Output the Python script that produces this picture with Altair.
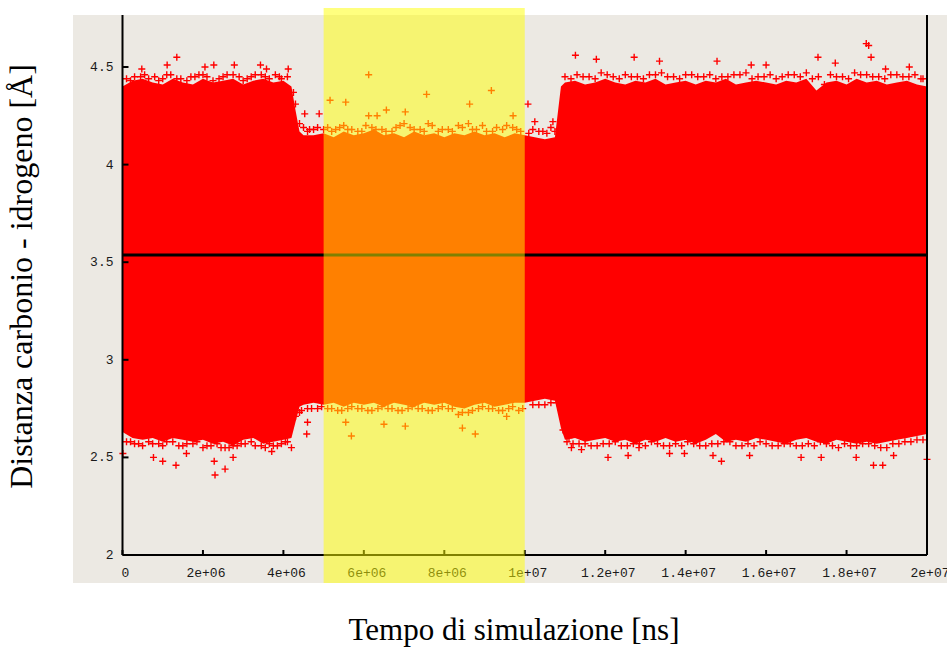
import altair as alt
import pandas as pd

# ---------------- data ----------------
# dense band envelope (solid part of the scatter), x in units of 1e6
area_x_M = [0, 0.25, 0.5, 0.75, 1.0, 1.25, 1.5, 1.75, 2.0, 2.25, 2.5, 2.75, 3.0, 3.25, 3.5, 3.75, 4.0,
            4.2, 4.3, 4.4,
            4.5, 4.75, 5.0, 5.25, 5.5, 5.75, 6.0, 6.25, 6.5, 6.75, 7.0, 7.25, 7.5, 7.75, 8.0, 8.25, 8.5,
            8.75, 9.0, 9.25, 9.5, 9.75, 10.0, 10.25, 10.5, 10.75,
            10.9,
            11.0, 11.25, 11.5, 11.75, 12.0, 12.25, 12.5, 12.75, 13.0, 13.25, 13.5, 13.75, 14.0, 14.25,
            14.5, 14.75, 15.0, 15.25, 15.5, 15.75, 16.0, 16.25, 16.5, 16.75, 17.0, 17.25, 17.5, 17.75,
            18.0, 18.25, 18.5, 18.75, 19.0, 19.25, 19.5, 19.75, 20.0]
area_upper = [4.40, 4.43, 4.44, 4.42, 4.41, 4.44, 4.42, 4.41, 4.44, 4.42, 4.43, 4.44, 4.41, 4.43, 4.44, 4.42, 4.43,
              4.40, 4.28, 4.17,
              4.15, 4.15, 4.16, 4.14, 4.17, 4.15, 4.16, 4.18, 4.15, 4.16, 4.14, 4.17, 4.15, 4.16, 4.14, 4.16,
              4.15, 4.17, 4.15, 4.16, 4.14, 4.16, 4.15, 4.14, 4.13, 4.14,
              4.40,
              4.42, 4.43, 4.41, 4.42, 4.44, 4.42, 4.41, 4.43, 4.42, 4.44, 4.41, 4.42, 4.43, 4.41, 4.43, 4.42,
              4.44, 4.41, 4.42, 4.43, 4.42, 4.41, 4.43, 4.42, 4.44, 4.38, 4.42, 4.43, 4.41, 4.44, 4.42, 4.43,
              4.41, 4.42, 4.43, 4.41, 4.40]
area_lower = [2.63, 2.60, 2.59, 2.60, 2.58, 2.60, 2.59, 2.58, 2.59, 2.57, 2.58, 2.56, 2.59, 2.60, 2.57, 2.58, 2.59,
              2.60, 2.68, 2.76,
              2.77, 2.78, 2.77, 2.78, 2.76, 2.78, 2.77, 2.78, 2.76, 2.78, 2.77, 2.76, 2.78, 2.77, 2.78, 2.76,
              2.75, 2.77, 2.78, 2.76, 2.77, 2.78, 2.78, 2.79, 2.80, 2.79,
              2.65,
              2.59, 2.60, 2.58, 2.59, 2.60, 2.58, 2.59, 2.57, 2.59, 2.58, 2.60, 2.58, 2.59, 2.57, 2.59, 2.62,
              2.58, 2.59, 2.58, 2.60, 2.59, 2.58, 2.57, 2.59, 2.60, 2.58, 2.57, 2.59, 2.58, 2.57, 2.58, 2.57,
              2.58, 2.59, 2.60, 2.61, 2.62]

# "+" markers along the upper edge (x in 1e6)
top_x_M = [0.1, 0.3, 0.55, 0.8, 1.0, 1.2, 1.45, 1.7, 1.9, 2.1, 2.4, 2.6, 2.9, 3.1, 3.3, 3.55, 3.8, 3.95, 4.1,
           4.25, 4.3, 4.4, 4.5, 4.65, 4.85,
           5.1, 5.3, 5.5, 5.7, 5.95, 6.2, 6.45, 6.7, 6.9, 7.15, 7.4, 7.6, 7.85, 8.1, 8.35, 8.6, 8.8, 9.05,
           9.3, 9.55, 9.8,
           10.2, 10.45, 10.65, 10.85,
           11.0, 11.3, 11.6, 11.9, 12.2, 12.5, 12.8, 13.1, 13.4, 13.7, 14.0, 14.3, 14.6, 14.9, 15.2, 15.5,
           15.8, 16.1, 16.4, 16.7, 17.0, 17.3, 17.6, 17.9, 18.2, 18.5, 18.8, 19.1, 19.4, 19.7, 19.9]
top_y = [4.44, 4.45, 4.46, 4.45, 4.44, 4.46, 4.44, 4.45, 4.46, 4.45, 4.44, 4.46, 4.45, 4.44, 4.46, 4.45, 4.46, 4.44, 4.45,
         4.37, 4.31, 4.21, 4.19, 4.18, 4.19,
         4.19, 4.18, 4.20, 4.18, 4.17, 4.19, 4.18, 4.17, 4.20, 4.19, 4.18, 4.21, 4.17, 4.18, 4.20, 4.21, 4.18, 4.17,
         4.19, 4.20, 4.18,
         4.18, 4.17, 4.19, 4.18,
         4.45, 4.46, 4.45, 4.47, 4.45, 4.46, 4.45, 4.46, 4.47, 4.45, 4.46, 4.45, 4.46, 4.45, 4.46, 4.47,
         4.45, 4.46, 4.45, 4.46, 4.47, 4.45, 4.46, 4.45, 4.47, 4.46, 4.45, 4.46, 4.45, 4.46, 4.44]
top2_x_M = [0.2, 0.45, 0.65, 0.9, 1.1, 1.35, 1.6, 1.8, 2.0, 2.25, 2.5, 2.75, 3.0, 3.2, 3.45, 3.65, 3.9,
            4.6, 4.75, 5.0, 5.2, 5.4, 5.6, 5.85, 6.05, 6.3, 6.55, 6.8, 7.0, 7.25, 7.5, 7.7, 7.95, 8.2, 8.45,
            8.7, 8.95, 9.2, 9.45, 9.7, 9.9, 10.1, 10.35, 10.55, 10.75,
            11.15, 11.45, 11.75, 12.05, 12.35, 12.65, 12.95, 13.25, 13.55, 13.85, 14.15, 14.45, 14.75, 15.05,
            15.35, 15.65, 15.95, 16.25, 16.55, 16.85, 17.15, 17.45, 17.75, 18.05, 18.35, 18.65, 18.95, 19.25,
            19.55, 19.85]
top2_y = [4.43, 4.45, 4.44, 4.43, 4.46, 4.44, 4.43, 4.45, 4.46, 4.43, 4.45, 4.46, 4.43, 4.45, 4.46, 4.44, 4.45,
          4.17, 4.18, 4.18, 4.17, 4.19, 4.18, 4.17, 4.20, 4.18, 4.17, 4.19, 4.21, 4.18, 4.17, 4.20, 4.18, 4.17, 4.19,
          4.18, 4.20, 4.17, 4.18, 4.19, 4.17, 4.16, 4.17, 4.16, 4.17,
          4.44, 4.45, 4.44, 4.46, 4.44, 4.45, 4.44, 4.46, 4.45, 4.44, 4.46, 4.45, 4.44, 4.45,
          4.46, 4.44, 4.45, 4.44, 4.46, 4.45, 4.44, 4.41, 4.45, 4.44, 4.46, 4.45, 4.44, 4.46,
          4.45, 4.44]

# "+" markers along the lower edge (x in 1e6)
bot_x_M = [0.1, 0.3, 0.5, 0.75, 1.0, 1.25, 1.5, 1.75, 2.0, 2.2, 2.45, 2.65, 2.85, 3.05, 3.3, 3.55, 3.75, 3.95, 4.1,
           4.3, 4.45, 4.6, 4.85,
           5.1, 5.35, 5.6, 5.85, 6.1, 6.35, 6.6, 6.85, 7.1, 7.35, 7.6, 7.85, 8.1, 8.35, 8.6, 8.85, 9.1, 9.35,
           9.6, 9.85,
           10.2, 10.5, 10.8, 10.95, 11.05,
           11.2, 11.5, 11.8, 12.1, 12.4, 12.7, 13.0, 13.3, 13.6, 13.9, 14.2, 14.5, 14.8, 15.1, 15.4, 15.7,
           16.0, 16.3, 16.6, 16.9, 17.2, 17.5, 17.8, 18.1, 18.4, 18.7, 19.0, 19.3, 19.6, 19.9]
bot_y = [2.58, 2.57, 2.56, 2.57, 2.56, 2.58, 2.56, 2.57, 2.55, 2.56, 2.55, 2.55, 2.56, 2.57, 2.56, 2.55, 2.56, 2.57, 2.58,
         2.71, 2.74, 2.75, 2.75,
         2.75, 2.74, 2.75, 2.75, 2.74, 2.75, 2.75, 2.74, 2.75, 2.75, 2.74, 2.75, 2.75, 2.72, 2.73, 2.75, 2.75, 2.74,
         2.75, 2.74,
         2.77, 2.77, 2.78, 2.64, 2.58,
         2.57, 2.57, 2.56, 2.57, 2.56, 2.57, 2.56, 2.57, 2.56, 2.56, 2.57, 2.56, 2.57, 2.58, 2.56, 2.56,
         2.57, 2.56, 2.57, 2.56, 2.56, 2.57, 2.55, 2.56, 2.57, 2.56, 2.55, 2.57, 2.58, 2.59]
bot2_x_M = [0.2, 0.4, 0.65, 0.9, 1.1, 1.4, 1.6, 1.85, 2.1, 2.35, 2.55, 2.75, 2.95, 3.2, 3.45, 3.65, 3.85, 4.05,
            4.4, 4.7, 4.95, 5.2, 5.45, 5.7, 5.95, 6.2, 6.45, 6.7, 6.95, 7.2, 7.45, 7.7, 7.95, 8.2, 8.45, 8.7,
            8.95, 9.2, 9.45, 9.7, 9.95, 10.35, 10.65,
            11.1, 11.35, 11.65, 11.95, 12.25, 12.55, 12.85, 13.15, 13.45, 13.75, 14.05, 14.35, 14.65, 14.95,
            15.25, 15.55, 15.85, 16.15, 16.45, 16.75, 17.05, 17.35, 17.65, 17.95, 18.25, 18.55, 18.85, 19.15,
            19.45, 19.75]
bot2_y = [2.58, 2.57, 2.58, 2.57, 2.58, 2.56, 2.57, 2.58, 2.56, 2.57, 2.55, 2.56, 2.57, 2.58, 2.56, 2.57, 2.56, 2.58,
          2.73, 2.75, 2.76, 2.75, 2.74, 2.76, 2.75, 2.74, 2.76, 2.75, 2.74, 2.76, 2.75, 2.74, 2.76, 2.75, 2.73, 2.74,
          2.76, 2.75, 2.74, 2.76, 2.75, 2.77, 2.78,
          2.60, 2.57, 2.56, 2.57, 2.58, 2.56, 2.57, 2.58, 2.56, 2.57, 2.58, 2.56, 2.57, 2.58,
          2.56, 2.57, 2.58, 2.56, 2.57, 2.56, 2.57, 2.58, 2.56, 2.57, 2.56, 2.57, 2.55, 2.57,
          2.58, 2.59]

# isolated outliers (x in 1e6)
out_x_M = [1.35, 1.11, 2.27, 2.05, 2.78, 3.43, 4.12, 0.48, 3.58, 4.53, 4.89,
           6.12, 5.16, 5.55, 7.56, 9.17, 6.56, 8.63, 9.71, 6.12, 7.03, 6.33, 10.08,
           18.49, 18.55, 11.26, 11.78, 12.72, 13.35, 14.78, 15.63, 16.00, 17.29, 17.72, 18.61, 18.97, 19.56,
           10.70, 10.25,
           2.30, 2.55, 1.33, 1.00, 0.77, 1.59, 2.28, 2.75, 4.58, 4.60, 5.69, 3.71, 0.01,
           8.77, 8.45, 7.03, 5.55, 6.50, 9.55, 4.20, 11.16,
           12.07, 14.89, 14.68, 18.67, 18.90, 16.87, 17.37, 18.24, 19.17, 12.57, 13.60, 13.97, 15.59, 20.0,
           11.41, 12.84]
out_y = [4.55, 4.51, 4.51, 4.50, 4.51, 4.51, 4.49, 4.49, 4.49, 4.26, 4.26,
         4.46, 4.33, 4.32, 4.36, 4.38, 4.28, 4.31, 4.25, 4.25, 4.27, 4.25, 4.31,
         4.62, 4.61, 4.56, 4.54, 4.55, 4.53, 4.53, 4.51, 4.51, 4.55, 4.52, 4.55, 4.49, 4.50,
         4.22, 4.22,
         2.41, 2.44, 2.46, 2.48, 2.50, 2.52, 2.48, 2.50, 2.62, 2.68, 2.61, 2.53, 2.52,
         2.62, 2.65, 2.66, 2.68, 2.67, 2.71, 2.55, 2.55,
         2.50, 2.48, 2.51, 2.46, 2.46, 2.50, 2.50, 2.50, 2.51, 2.51, 2.52, 2.52, 2.51, 2.49,
         2.54, 2.55]

mean_value = 3.537
highlight_start = 5e6
highlight_end = 1e7

x_ticks = [0, 2e6, 4e6, 6e6, 8e6, 1e7, 1.2e7, 1.4e7, 1.6e7, 1.8e7, 2e7]
x_tick_labels = ["0", "2e+06", "4e+06", "6e+06", "8e+06", "1e+07", "1.2e+07", "1.4e+07", "1.6e+07", "1.8e+07", "2e+07"]
y_ticks = [2, 2.5, 3, 3.5, 4, 4.5]
y_tick_labels = ["2", "2.5", "3", "3.5", "4", "4.5"]

# ---------------- layout ----------------
W = 804.5
H = 540
X_MAX = 2e7
Y_MIN, Y_MAX = 2.0, 4.7664

GREY = "#ece9e3"
RED = "#ff0000"
TICK_FONT = "Liberation Mono"
TITLE_FONT = "Liberation Serif"

xs = alt.Scale(domain=[0, X_MAX], nice=False, zero=False)
ys = alt.Scale(domain=[Y_MIN, Y_MAX], nice=False, zero=False)
x_axis = alt.Axis(title="Tempo di simulazione [ns]", labels=False, ticks=False, domain=False, grid=False,
                  titleFont=TITLE_FONT, titleFontSize=31, titleFontWeight="normal", titleColor="black",
                  titleX=391, titleY=84, titleAlign="center", titleBaseline="alphabetic", zindex=0)
y_axis = alt.Axis(title="Distanza carbonio - idrogeno [Å]", labels=False, ticks=False, domain=False, grid=False,
                  titleFont=TITLE_FONT, titleFontSize=32, titleFontWeight="normal", titleColor="black",
                  titleX=-101, titleY=261, titleAngle=270, titleAlign="center", titleBaseline="middle", zindex=0)


def X(f):
    return alt.X(f, type="quantitative", scale=xs, axis=x_axis)


def Y(f):
    return alt.Y(f, type="quantitative", scale=ys, axis=y_axis)


area_df = pd.DataFrame({"x": [v * 1e6 for v in area_x_M], "hi": area_upper, "lo": area_lower})
pts_df = pd.DataFrame({
    "x": [v * 1e6 for v in top_x_M + top2_x_M + bot_x_M + bot2_x_M + out_x_M],
    "y": top_y + top2_y + bot_y + bot2_y + out_y,
})
one = pd.DataFrame({"a": [0]})
mean_df = pd.DataFrame({"x0": [0.0], "x1": [X_MAX], "y": [mean_value]})
band_df = pd.DataFrame({"x0": [highlight_start], "x1": [highlight_end]})
xt_df = pd.DataFrame({"v": x_ticks, "t": x_tick_labels})
yt_df = pd.DataFrame({"v": y_ticks, "t": y_tick_labels})

background = alt.Chart(one).mark_rect(color=GREY).encode(
    x=alt.value(-49.5), x2=alt.value(W + 20), y=alt.value(0), y2=alt.value(H + 28))

band = alt.Chart(area_df).mark_area(color=RED, interpolate="linear").encode(
    x=X("x"), y=Y("hi"), y2=alt.Y2("lo"))

points = alt.Chart(pts_df).mark_point(
    shape="M-1,0H1M0,-1V1", filled=False, stroke=RED, strokeWidth=1.4, size=49, opacity=1
).encode(x=X("x"), y=Y("y"))

mean_line = alt.Chart(mean_df).mark_rule(color="black", strokeWidth=3).encode(
    x=X("x0"), x2=alt.X2("x1"), y=Y("y"))

frame_left = alt.Chart(one).mark_rule(color="black", strokeWidth=2).encode(
    x=alt.value(0), y=alt.value(0), y2=alt.value(H))
frame_right = alt.Chart(one).mark_rule(color="black", strokeWidth=2).encode(
    x=alt.value(W), y=alt.value(0), y2=alt.value(H))
frame_bottom = alt.Chart(one).mark_rule(color="black", strokeWidth=2).encode(
    x=alt.value(0), x2=alt.value(W), y=alt.value(H))

x_tick_marks = alt.Chart(xt_df).mark_rule(color="black", strokeWidth=2).encode(
    x=X("v"), y=alt.value(H - 5), y2=alt.value(H))
y_tick_marks = alt.Chart(yt_df).mark_rule(color="black", strokeWidth=2).encode(
    y=Y("v"), x=alt.value(0), x2=alt.value(6))

x_labels = alt.Chart(xt_df).mark_text(font=TICK_FONT, fontSize=13, color="#1a1a1a", baseline="middle",
                                      align="center", dx=3).encode(
    x=X("v"), y=alt.value(H + 18), text="t:N")
y_labels = alt.Chart(yt_df).mark_text(font=TICK_FONT, fontSize=13, color="#1a1a1a", baseline="middle",
                                      align="right").encode(
    y=Y("v"), x=alt.value(-9), text="t:N")

highlight = alt.Chart(band_df).mark_rect(color="#ffff00", opacity=0.5).encode(
    x=X("x0"), x2=alt.X2("x1"), y=alt.value(-7), y2=alt.value(H + 28))

chart = alt.layer(
    background, band, points, mean_line, frame_left, frame_right, frame_bottom,
    x_tick_marks, y_tick_marks, x_labels, y_labels, highlight
).properties(
    width=W, height=H,
    autosize=alt.AutoSizeParams(type="none"),
    padding={"left": 122.5, "top": 15, "right": 20, "bottom": 92},
    background="white",
).configure_view(stroke=None)

chart.save("out.html", embed_options={"renderer": "svg", "actions": False})
